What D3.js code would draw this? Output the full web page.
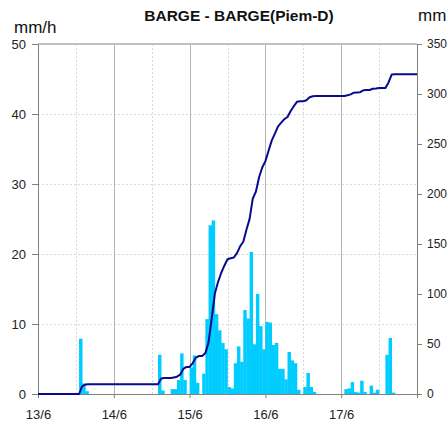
<!DOCTYPE html>
<html>
<head>
<meta charset="utf-8">
<script src="https://cdn.jsdelivr.net/npm/d3@7"></script>
<style>
  body { margin: 0; background: #fff; }
  svg { display: block; font-family: "Liberation Sans", Arial, sans-serif; }
</style>
</head>
<body>
<svg id="chart" width="448" height="426"></svg>
<script>
// hourly rainfall (mm/h), starting 13/6 00:00
var rain = [
  0, 0, 0, 0, 0, 0, 0, 0, 0, 0, 0, 0, 0, 7.9, 1.5, 0.4, 0, 0, 0, 0, 0, 0, 0, 0,
  0, 0, 0, 0, 0, 0, 0, 0, 0, 0, 0, 0, 0, 0, 5.6, 0.5, 0, 0, 0.7, 0.7, 2.0, 5.8, 2.0, 0,
  3.8, 5.5, 1.6, 0, 2.9, 10.7, 24.1, 24.8, 11.4, 9.1, 7.3, 6.4, 1.0, 0.8, 4.4, 6.8, 4.6, 12.0, 10.8, 20.3, 7.1, 14.3, 9.7, 6.4,
  10.3, 10.2, 7.0, 7.3, 3.6, 3.6, 2.1, 6.0, 4.8, 4.4, 0.6, 0, 1.0, 3.0, 1.0, 0.3, 0, 0, 0, 0, 0, 0, 0, 0,
  0, 0.7, 0.8, 1.7, 0.3, 0.2, 1.9, 0.3, 0, 1.2, 0.2, 0.6, 0, 0, 5.6, 8.0, 0.2, 0, 0, 0, 0, 0, 0, 0
];

// cumulated rainfall (mm) at each hour mark
var cumul = [
  0, 0, 0, 0, 0, 0, 0, 0, 0, 0, 0, 0, 0, 0, 7.9, 9.4, 9.8, 9.8, 9.8, 9.8, 9.8, 9.8, 9.8, 9.8,
  9.8, 9.8, 9.8, 9.8, 9.8, 9.8, 9.8, 9.8, 9.8, 9.8, 9.8, 9.8, 9.8, 9.8, 9.8, 15.4, 15.9, 15.9, 15.9, 16.6, 17.3, 19.3, 25.1, 27.1,
  27.1, 30.9, 36.4, 38.0, 38.0, 40.9, 51.6, 75.7, 100.5, 111.9, 121.0, 128.3, 134.7, 135.7, 136.5, 140.9, 147.7, 152.3, 164.3, 175.1, 195.4, 202.5, 216.8, 226.5,
  232.9, 243.2, 253.4, 260.4, 267.7, 271.3, 274.9, 277.0, 283.0, 287.8, 292.2, 292.8, 292.8, 293.8, 296.8, 297.8, 298.1, 298.1, 298.1, 298.1, 298.1, 298.1, 298.1, 298.1,
  298.1, 298.1, 298.8, 299.6, 301.3, 301.6, 301.8, 303.7, 304.0, 304.0, 305.2, 305.4, 306.0, 306.0, 306.0, 311.6, 319.6, 319.8, 319.8, 319.8, 319.8, 319.8, 319.8, 319.8,
  319.8
];

var dayLabels = ["13/6", "14/6", "15/6", "16/6", "17/6"];
var leftTicks = [0, 10, 20, 30, 40, 50];
var rightTicks = [0, 50, 100, 150, 200, 250, 300, 350];

function drawChart() {
  var start = new Date(2000, 5, 13, 0, 0);
  var end = new Date(2000, 5, 18, 0, 0);
  var hour = 3600 * 1000;

  var m = { left: 38, right: 417, top: 44, bottom: 394 };

  var svg = d3.select("#chart");

  var x = d3.scaleTime().domain([start, end]).range([m.left, m.right]);
  var yL = d3.scaleLinear().domain([0, 50]).range([m.bottom, m.top]);
  var yR = d3.scaleLinear().domain([0, 350]).range([m.bottom, m.top]);

  var days = d3.range(6).map(function(i) { return new Date(start.getTime() + i * 24 * hour); });
  var halves = d3.range(5).map(function(i) { return new Date(start.getTime() + (i * 24 + 12) * hour); });

  // grid: dashed midday + horizontal, solid day lines
  svg.append("g").selectAll("line").data(halves).join("line")
    .attr("x1", function(d) { return Math.round(x(d)) + 0.5; })
    .attr("x2", function(d) { return Math.round(x(d)) + 0.5; })
    .attr("y1", m.top).attr("y2", m.bottom)
    .attr("stroke", "#d8d8d8").attr("stroke-dasharray", "2,2");

  svg.append("g").selectAll("line").data([10, 20, 30, 40]).join("line")
    .attr("x1", m.left).attr("x2", m.right)
    .attr("y1", function(d) { return Math.round(yL(d)) + 0.5; })
    .attr("y2", function(d) { return Math.round(yL(d)) + 0.5; })
    .attr("stroke", "#d8d8d8").attr("stroke-dasharray", "2,2");

  svg.append("g").selectAll("line").data(days.slice(1, 5)).join("line")
    .attr("x1", function(d) { return Math.round(x(d)) + 0.5; })
    .attr("x2", function(d) { return Math.round(x(d)) + 0.5; })
    .attr("y1", m.top).attr("y2", m.bottom)
    .attr("stroke", "#b4b4b4");

  // bars
  var bw = x(new Date(start.getTime() + hour)) - x(start);
  svg.append("g").selectAll("rect").data(rain).join("rect")
    .attr("x", function(d, i) { return x(new Date(start.getTime() + i * hour)); })
    .attr("y", function(d) { return yL(d); })
    .attr("width", bw + 0.3)
    .attr("height", function(d) { return m.bottom - yL(d); })
    .attr("fill", "#00ccff");

  // top border
  svg.append("line").attr("x1", m.left).attr("x2", m.right).attr("y1", m.top).attr("y2", m.top)
    .attr("stroke", "#c0c0c0").attr("stroke-width", 2);

  // axes
  var axL = svg.append("g").attr("transform", "translate(" + m.left + ",0)")
    .call(d3.axisLeft(yL).tickValues(leftTicks).tickSize(6).tickPadding(6));
  var axR = svg.append("g").attr("transform", "translate(" + m.right + ",0)")
    .call(d3.axisRight(yR).tickValues(rightTicks).tickSize(5).tickPadding(5));
  var axB = svg.append("g").attr("transform", "translate(0," + m.bottom + ")")
    .call(d3.axisBottom(x).tickValues(days.slice(0, 5)).tickSize(4).tickPadding(12)
      .tickFormat(function(d, i) { return dayLabels[i]; }));

  [axL, axR, axB].forEach(function(ax) {
    ax.select(".domain").attr("stroke", "#808080");
    ax.selectAll(".tick line").attr("stroke", "#808080");
    ax.selectAll("text").attr("fill", "#222").attr("font-family", "Liberation Sans, Arial");
  });
  axL.selectAll("text").attr("font-size", 13);
  axR.selectAll("text").attr("font-size", 12);
  axB.selectAll("text").attr("font-size", 13);

  // cumulative line
  var line = d3.line()
    .x(function(d, i) { return x(new Date(start.getTime() + i * hour)); })
    .y(function(d) { return yR(d); });
  svg.append("path").datum(cumul)
    .attr("d", line)
    .attr("fill", "none")
    .attr("stroke", "#0a0a8c")
    .attr("stroke-width", 2)
    .attr("stroke-linejoin", "round");

  // titles
  svg.append("text").attr("x", 239).attr("y", 21).attr("text-anchor", "middle")
    .attr("font-size", 15.5).attr("font-weight", "bold").attr("fill", "#111")
    .text("BARGE - BARGE(Piem-D)");
  svg.append("text").attr("x", 14).attr("y", 33).attr("font-size", 17).attr("fill", "#111").text("mm/h");
  svg.append("text").attr("x", 418).attr("y", 21).attr("font-size", 17).attr("fill", "#111").text("mm");
}

drawChart();
</script>
</body>
</html>
